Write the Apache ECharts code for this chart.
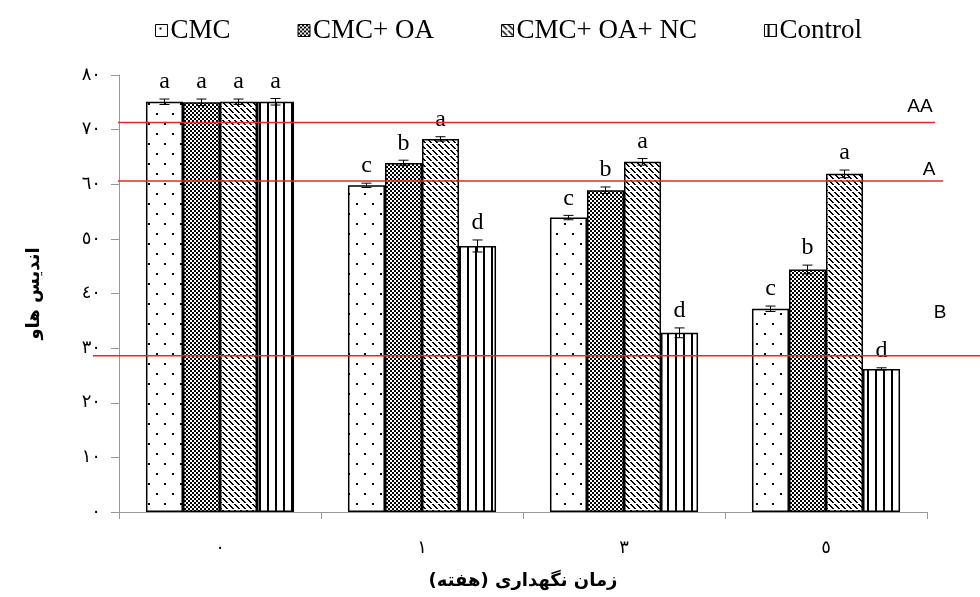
<!DOCTYPE html>
<html>
<head>
<meta charset="utf-8">
<style>
  html, body { margin: 0; padding: 0; background: #fff; }
  #chart { width: 980px; height: 597px; }
</style>
<script src="https://cdn.jsdelivr.net/npm/echarts@6/dist/echarts.min.js"></script>
</head>
<body>
<div id="chart"></div>
<script>
// Storage time (weeks) and treatments
const categories = ['٠', '١', '٣', '٥'];
const seriesNames = ['CMC', 'CMC+ OA', 'CMC+ OA+ NC', 'Control'];

// Haugh index per treatment, one value per storage week
const cmcValues     = [75.1, 59.8, 53.9, 37.2];
const cmcOaValues   = [75.0, 63.9, 58.9, 44.4];
const cmcOaNcValues = [75.1, 68.3, 64.1, 61.9];
const controlValues = [75.1, 48.7, 32.8, 26.2];

// Standard errors
const cmcErrors     = [0.5, 0.4, 0.4, 0.5];
const cmcOaErrors   = [0.6, 0.5, 0.6, 0.8];
const cmcOaNcErrors = [0.5, 0.4, 0.6, 0.7];
const controlErrors = [0.6, 1.1, 0.9, 0.2];

// Significance letters
const cmcLetters     = ['a', 'c', 'c', 'c'];
const cmcOaLetters   = ['a', 'b', 'b', 'b'];
const cmcOaNcLetters = ['a', 'a', 'a', 'a'];
const controlLetters = ['a', 'd', 'd', 'd'];

// Quality grade thresholds
const gradeLabels = ['AA', 'A', 'B'];
const gradeValues = [71.3, 60.6, 28.6];

// Y axis tick labels (Arabic-Indic digits)
const yTickLabels = ['٠', '١٠', '٢٠', '٣٠', '٤٠', '٥٠', '٦٠', '٧٠', '٨٠'];

const allValues = [cmcValues, cmcOaValues, cmcOaNcValues, controlValues];
const allErrors = [cmcErrors, cmcOaErrors, cmcOaNcErrors, controlErrors];
const allLetters = [cmcLetters, cmcOaLetters, cmcOaNcLetters, controlLetters];

// ---- fill patterns ----
function makeTile(w, h, paint) {
  const c = document.createElement('canvas');
  c.width = w; c.height = h;
  const ctx = c.getContext('2d');
  ctx.fillStyle = '#fff';
  ctx.fillRect(0, 0, w, h);
  ctx.fillStyle = '#000';
  paint(ctx, w, h);
  return c;
}
const dotTile = makeTile(16, 20, (ctx) => {
  ctx.fillRect(4, 3, 2, 2);
  ctx.fillRect(12, 13, 2, 2);
});
const checkTile = makeTile(8, 8, (ctx) => {
  for (let y = 0; y < 8; y += 2) {
    for (let x = 0; x < 8; x += 2) {
      if (((x >> 1) + (y >> 1)) % 2 === 0) ctx.fillRect(x, y, 2, 2);
    }
  }
  ctx.fillRect(2, 2, 2, 2);
  ctx.fillRect(6, 6, 2, 2);
});
const diagTile = makeTile(12, 12, (ctx) => {
  for (let i = 0; i < 12; i++) {
    if (i % 6 !== 5) {
      ctx.fillRect(i, i, 2, 1);
      ctx.fillRect((i + 6) % 12, i, 2, 1);
    }
  }
});
const vlineTile = makeTile(8, 4, (ctx) => {
  ctx.fillRect(3, 0, 2, 4);
});
const patterns = [dotTile, checkTile, diagTile, vlineTile].map(t => ({ image: t, repeat: 'repeat' }));

const CAT_GAP = 0.267;
const N_BARS = 4;

function barCenterX(api, catIdx, barIdx) {
  const center = api.coord([catIdx, 0])[0];
  const bandW = api.size([1, 0])[0];
  const barW = bandW * (1 - CAT_GAP) / N_BARS;
  return center + (barIdx - (N_BARS - 1) / 2) * barW;
}

const barSeries = seriesNames.map((name, i) => ({
  name: name,
  type: 'bar',
  data: allValues[i],
  barGap: '0%',
  barCategoryGap: (CAT_GAP * 100) + '%',
  itemStyle: { color: patterns[i], borderColor: '#000', borderWidth: 1.5 },
  z: 2
}));

const errorSeries = seriesNames.map((name, i) => ({
  type: 'custom',
  silent: true,
  clip: false,
  z: 5,
  data: allValues[i].map((v, k) => [k, v, allErrors[i][k]]),
  encode: { x: 0, y: 1 },
  renderItem: function (params, api) {
    const k = api.value(0);
    const v = api.value(1);
    const e = api.value(2);
    const letter = allLetters[i][k];
    const x = barCenterX(api, k, i);
    const yHi = api.coord([k, v + e])[1];
    const yLo = api.coord([k, v - e])[1];
    const cap = 5;
    const ls = { stroke: '#000', lineWidth: 1 };
    return {
      type: 'group',
      children: [
        { type: 'line', shape: { x1: x, y1: yHi, x2: x, y2: yLo }, style: ls },
        { type: 'line', shape: { x1: x - cap, y1: yHi, x2: x + cap, y2: yHi }, style: ls },
        { type: 'line', shape: { x1: x - cap, y1: yLo, x2: x + cap, y2: yLo }, style: ls },
        {
          type: 'text',
          style: {
            text: letter, x: x, y: yHi - 5,
            align: 'center', verticalAlign: 'bottom',
            fontFamily: 'Liberation Serif', fontSize: 24, fill: '#000'
          }
        }
      ]
    };
  }
}));

// horizontal extents of each grade line and its label offset (pixels)
const gradeLineLayout = [
  { startOffset: -1, endX: 935, labelX: 920, labelDy: -6 },
  { startOffset: -1, endX: 943, labelX: 929, labelDy: -2 },
  { startOffset: -26, endX: 980, labelX: 940, labelDy: -34 }
];

const gradeSeries = {
  type: 'custom',
  silent: true,
  clip: false,
  z: 10,
  data: gradeValues.map((v, k) => [0, v, k]),
  encode: { x: 0, y: 1 },
  renderItem: function (params, api) {
    const k = api.value(2);
    const lay = gradeLineLayout[k];
    const y = api.coord([0, api.value(1)])[1];
    const x0 = params.coordSys.x + lay.startOffset;
    return {
      type: 'group',
      children: [
        { type: 'line', shape: { x1: x0, y1: y, x2: lay.endX, y2: y },
          style: { stroke: '#e8262b', lineWidth: 1.5 } },
        { type: 'text', style: {
            text: gradeLabels[k], x: lay.labelX, y: y + lay.labelDy,
            align: 'center', verticalAlign: 'bottom',
            fontFamily: 'Liberation Sans', fontSize: 19, fill: '#000' } }
      ]
    };
  }
};

const chart = echarts.init(document.getElementById('chart'), null, { renderer: 'canvas' });
chart.setOption({
  animation: false,
  backgroundColor: '#fff',
  legend: {
    data: seriesNames,
    top: 12,
    left: 150,
    icon: 'rect',
    itemWidth: 12,
    itemHeight: 12,
    itemGap: 67,
    textStyle: { fontFamily: 'Liberation Serif', fontSize: 27, color: '#000', padding: [0, 0, 0, -2] },
    itemStyle: { borderColor: '#000', borderWidth: 1 }
  },
  grid: { left: 119, right: 53, top: 75, bottom: 85 },
  xAxis: {
    type: 'category',
    data: categories,
    name: 'زمان نگهداری (هفته)',
    nameLocation: 'middle',
    nameGap: 60,
    nameTextStyle: { fontFamily: 'DejaVu Sans', fontSize: 18, fontWeight: 'bold', color: '#000' },
    axisLine: { lineStyle: { color: '#999', width: 1 } },
    axisTick: { show: true, length: 7, lineStyle: { color: '#999' } },
    axisLabel: { fontFamily: 'DejaVu Sans', fontSize: 18, color: '#000', margin: 27 }
  },
  yAxis: {
    type: 'value',
    min: 0,
    max: 80,
    interval: 10,
    name: 'اندیس هاو',
    nameLocation: 'middle',
    nameRotate: 90,
    nameGap: 76,
    nameTextStyle: { fontFamily: 'DejaVu Sans', fontSize: 18, fontWeight: 'bold', color: '#000' },
    axisLine: { show: true, lineStyle: { color: '#999', width: 1 } },
    axisTick: { show: true, length: 8, lineStyle: { color: '#999' } },
    splitLine: { show: false },
    axisLabel: {
      fontFamily: 'DejaVu Sans', fontSize: 18, color: '#000', margin: 18,
      formatter: (val) => yTickLabels[Math.round(val / 10)]
    }
  },
  series: [...barSeries, ...errorSeries, gradeSeries]
});
</script>
</body>
</html>
